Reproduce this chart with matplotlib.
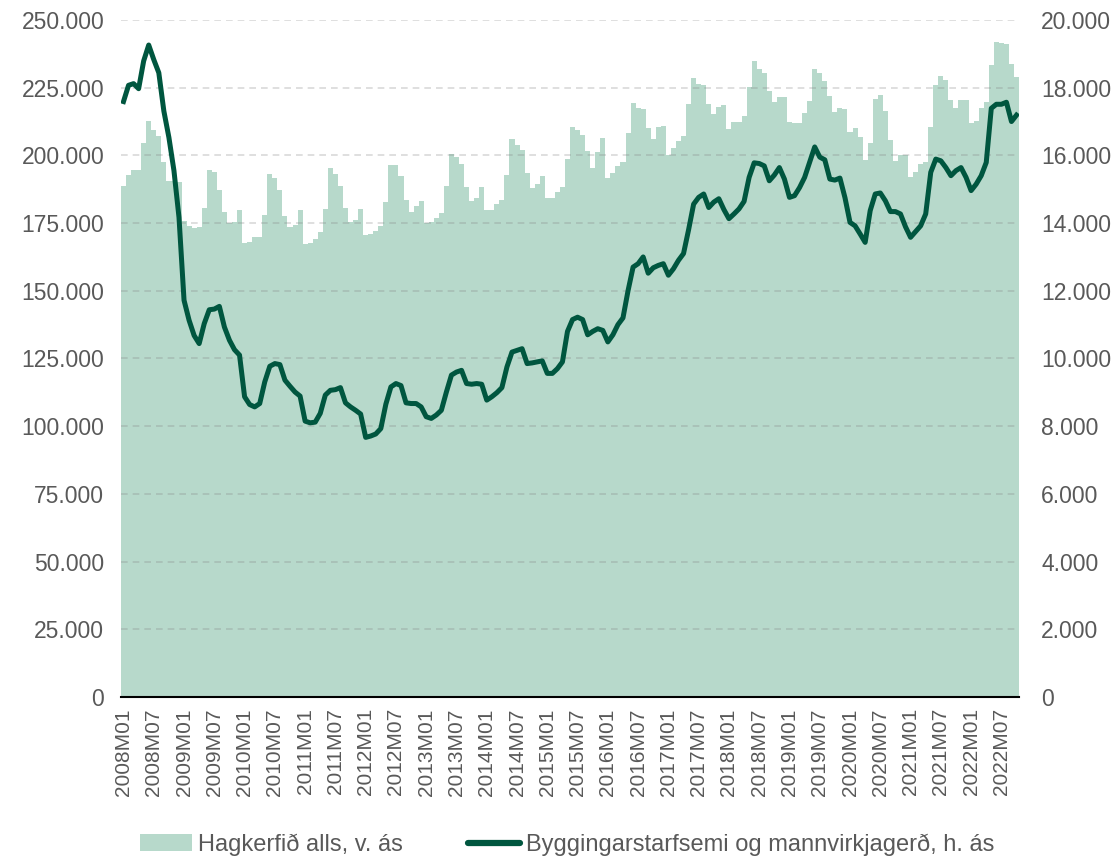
"""Starfandi: hagkerfið alls (súlur) og byggingarstarfsemi (lína), mánaðarlega."""
import numpy as np
import matplotlib
matplotlib.use("Agg")
import matplotlib.pyplot as plt
from matplotlib.patches import Patch
from matplotlib.lines import Line2D

plt.rcParams["font.family"] = ["Liberation Sans", "DejaVu Sans"]

BAR_COLOR = "#b7d9cb"
LINE_COLOR = "#00563f"
TEXT_COLOR = "#595959"

YEARS = list(range(2008, 2023))
MONTHS = [f"{y}M{m:02d}" for y in YEARS for m in range(1, 13)][:178]

# Hagkerfið alls, v. ás (þúsundir)
total_k = [
    188.8, 192.8, 194.5, 194.5, 204.4, 212.6, 209.4, 207.1, 197.6, 190.6, 190.4, 190.0,  # 2008
    175.9, 174.0, 173.2, 173.4, 180.5, 194.7, 193.8, 187.3, 179.2, 175.0, 175.5, 179.9,  # 2009
    167.8, 168.0, 169.7, 169.7, 178.1, 193.1, 191.8, 187.2, 177.7, 173.4, 174.4, 179.8,  # 2010
    167.3, 167.8, 169.1, 171.6, 180.2, 195.4, 193.1, 188.7, 180.4, 175.3, 176.2, 180.3,  # 2011
    170.6, 171.0, 172.2, 173.9, 182.9, 196.6, 196.6, 192.3, 183.6, 179.2, 181.4, 183.2,  # 2012
    175.1, 175.4, 176.9, 178.7, 188.8, 200.4, 199.5, 196.8, 188.2, 183.2, 184.1, 188.4,  # 2013
    179.8, 179.9, 182.0, 183.5, 192.8, 206.1, 203.9, 201.9, 193.4, 187.8, 189.6, 192.5,  # 2014
    184.1, 184.1, 186.6, 188.4, 198.7, 210.6, 209.4, 207.6, 201.7, 195.4, 201.4, 206.3,  # 2015
    191.8, 193.4, 195.9, 197.4, 208.2, 219.4, 217.4, 217.0, 210.0, 206.0, 210.3, 210.8,  # 2016
    200.2, 202.7, 205.4, 207.2, 219.0, 228.4, 226.5, 226.0, 218.9, 215.2, 218.0, 218.6,  # 2017
    209.9, 212.4, 212.5, 214.6, 225.2, 234.8, 231.8, 230.6, 223.8, 219.8, 221.7, 221.7,  # 2018
    212.4, 211.9, 212.0, 215.5, 220.1, 231.8, 230.6, 227.5, 221.9, 216.0, 217.6, 217.3,  # 2019
    208.7, 210.1, 206.8, 198.2, 204.4, 220.9, 222.3, 216.4, 205.6, 198.0, 200.2, 200.2,  # 2020
    192.2, 193.7, 197.0, 197.6, 210.6, 226.0, 229.3, 227.7, 220.3, 217.6, 220.3, 220.3,  # 2021
    212.1, 212.7, 217.6, 219.7, 233.4, 242.0, 241.6, 241.0, 233.6, 228.9,              # 2022
]

# Byggingarstarfsemi og mannvirkjagerð, h. ás
construction = [
    17590, 18070, 18120, 17970, 18790, 19260, 18830, 18440, 17310, 16530, 15550, 14170,  # 2008
    11720, 11130, 10680, 10440, 11030, 11440, 11460, 11540, 10930, 10540, 10260, 10100,  # 2009
    8870, 8640, 8570, 8670, 9310, 9770, 9850, 9820, 9360, 9180, 9010, 8890,              # 2010
    8150, 8100, 8120, 8380, 8920, 9060, 9080, 9140, 8690, 8570, 8470, 8360,              # 2011
    7670, 7710, 7770, 7930, 8650, 9160, 9260, 9200, 8690, 8670, 8670, 8570,              # 2012
    8280, 8230, 8330, 8470, 9010, 9510, 9600, 9650, 9260, 9240, 9260, 9240,              # 2013
    8770, 8870, 8990, 9140, 9750, 10190, 10240, 10290, 9850, 9870, 9900, 9930,           # 2014
    9560, 9560, 9700, 9900, 10800, 11150, 11220, 11150, 10700, 10800, 10880, 10830,      # 2015
    10490, 10700, 11000, 11200, 12000, 12700, 12800, 13000, 12520, 12680, 12750, 12800,  # 2016
    12460, 12650, 12900, 13100, 13800, 14560, 14760, 14860, 14460, 14620, 14720, 14400,  # 2017
    14130, 14270, 14420, 14640, 15350, 15780, 15760, 15690, 15250, 15420, 15640, 15300,  # 2018
    14760, 14810, 15050, 15350, 15800, 16250, 15950, 15870, 15300, 15270, 15330, 14750,  # 2019
    14020, 13920, 13680, 13430, 14370, 14860, 14890, 14660, 14340, 14340, 14270, 13890,  # 2020
    13580, 13750, 13920, 14270, 15500, 15890, 15840, 15640, 15400, 15550, 15640, 15350,  # 2021
    14960, 15150, 15400, 15790, 17390, 17510, 17510, 17570, 17000, 17190,                # 2022
]

total = [v * 1000 for v in total_k]


def dot_fmt(v, _pos=None):
    return f"{v:,.0f}".replace(",", ".")


fig = plt.figure(figsize=(11.17, 8.65), dpi=100)
ax = fig.add_axes([0.1083, 0.1942, 0.8040, 0.7827])
x = np.arange(len(MONTHS))

ax.bar(x, total, width=1.0, color=BAR_COLOR, linewidth=0, zorder=1)
ax.set_xlim(-0.5, len(MONTHS) - 0.5)
ax.set_ylim(0, 250000)
ax.set_yticks(np.arange(0, 250001, 25000))
ax.yaxis.set_major_formatter(plt.FuncFormatter(dot_fmt))
ax.set_axisbelow(False)
ax.grid(axis="y", color="#808080", alpha=0.3, linestyle=(0, (4, 3)), linewidth=1.2)

ax.set_xticks(x[::6])
ax.set_xticklabels(MONTHS[::6], rotation=90)

for s in ("top", "left", "right"):
    ax.spines[s].set_visible(False)
ax.spines["bottom"].set_color("#000000")
ax.spines["bottom"].set_linewidth(1.5)
ax.spines["bottom"].set_zorder(5)
ax.tick_params(axis="both", length=0, labelcolor=TEXT_COLOR)
ax.tick_params(axis="y", pad=12, labelsize=16.5)
ax.tick_params(axis="x", pad=8, labelsize=15)

ax2 = ax.twinx()
ax2.plot(x, construction, color=LINE_COLOR, linewidth=3.6, solid_joinstyle="round")
ax2.set_ylim(0, 20000)
ax2.set_yticks(np.arange(0, 20001, 2000))
ax2.yaxis.set_major_formatter(plt.FuncFormatter(dot_fmt))
for s in ("top", "left", "right", "bottom"):
    ax2.spines[s].set_visible(False)
ax2.tick_params(axis="y", length=0, labelsize=16.5, labelcolor=TEXT_COLOR, pad=16)

handles = [
    Patch(facecolor=BAR_COLOR, edgecolor="none"),
    Line2D([0], [0], color=LINE_COLOR, linewidth=4.5, solid_capstyle="round"),
]
labels = ["Hagkerfið alls, v. ás", "Byggingarstarfsemi og mannvirkjagerð, h. ás"]
leg = fig.legend(handles, labels, loc="lower center", bbox_to_anchor=(0.508, -0.014),
                 ncol=2, frameon=False, fontsize=17, handlelength=2.2,
                 handletextpad=0.25, columnspacing=2.75)
for t in leg.get_texts():
    t.set_color(TEXT_COLOR)

fig.savefig("out.png", dpi=100)
